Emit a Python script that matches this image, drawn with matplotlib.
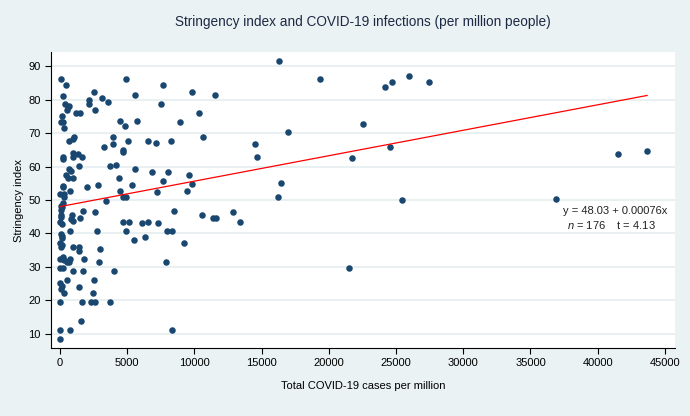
import matplotlib.pyplot as plt
import numpy as np

# total cases per million (x) and stringency index (y)
cases = [74, 469, 201, 335, 618, 670, 498, 1168, 1466, 126, 74, 201, 320, 1019, 990,
         692, 990, 1317, 990, 1659, 223, 246, 1436, 670, 818, 446, 558, 967, 246, 201,
         766, 0, 275, 320, 1986, 2805, 2552, 2180, 2180, 2604, 3147, 3594, 3274, 3921,
         3921, 3742, 4144, 4464, 4858, 4910, 5602, 5729, 5059, 4665, 4687, 4367, 5602,
         5379, 4464, 4710, 4910, 7492, 7686, 6547, 7120, 8281, 8906, 6822, 8035, 7686,
         7239, 9798, 10319, 10617, 9598, 9843, 9426, 11532, 16294, 19344, 14486, 14657,
         16963, 16442, 16219, 21747, 22521, 24158, 24678, 24530, 25966, 27431, 41493,
         43673, 36925, 25467, 21479,
         186, 52, 171, 3422, 893, 796, 930, 1689, 2626, 1488, 74, 52, 97, 22, 112, 744,
         2716, 4687, 5156, 4933, 6078, 6510, 7291, 7961, 8311, 8444, 10565, 11346, 11606,
         12894, 13392, 5483, 6324, 9226, 52, 171, 149, 0, 149, 52, 990, 1414, 1399, 2939,
         0, 201, 275, 498, 707, 670, 1748, 2864, 7886, 0, 223, 967, 1726, 3980, 543, 2515,
         0, 171, 74, 283, 1436, 2470, 0, 1659, 2329, 2582, 3720, 1577, 15, 759, 8296, 0]
stringency = [86.0, 84.2, 81.0, 78.7, 77.7, 78.1, 76.8, 76.0, 76.0, 75.0, 73.3, 73.3, 71.4,
              68.9, 68.2, 67.7, 63.9, 63.8, 62.9, 62.9, 62.9, 62.1, 60.1, 59.3, 58.7, 57.5,
              56.7, 56.5, 54.3, 53.8, 52.8, 51.8, 51.9, 51.0, 53.8, 54.6, 82.3, 79.9, 78.7,
              76.8, 80.4, 79.2, 65.7, 68.9, 66.6, 60.1, 60.5, 73.6, 72.2, 86.0, 81.4, 73.6,
              67.6, 64.8, 64.3, 56.5, 59.3, 54.6, 52.8, 51.0, 51.0, 78.7, 84.2, 67.6, 67.1,
              67.6, 73.2, 58.3, 58.3, 55.6, 52.3, 82.3, 76.0, 68.9, 57.5, 54.7, 52.8, 81.4,
              91.6, 86.0, 66.6, 62.9, 70.3, 55.1, 51.0, 62.5, 72.7, 83.7, 85.1, 65.7, 86.9,
              85.1, 63.8, 64.7, 50.4, 50.0, 29.7,
              49.0, 48.2, 47.8, 49.6, 45.4, 44.4, 43.6, 46.7, 46.3, 44.5, 47.0, 45.6, 45.0,
              43.3, 42.7, 40.7, 40.7, 43.5, 43.5, 40.7, 43.0, 43.5, 43.0, 40.7, 40.7, 46.7,
              45.4, 44.5, 44.5, 46.3, 43.5, 38.0, 39.0, 37.1, 39.9, 39.3, 38.6, 37.3, 36.6,
              36.1, 36.1, 36.1, 34.8, 35.4, 32.5, 33.0, 32.1, 31.5, 32.5, 31.5, 32.5, 31.5,
              31.5, 29.6, 29.6, 28.8, 28.8, 28.8, 26.1, 26.0, 25.1, 24.2, 23.3, 22.3, 24.1,
              22.3, 19.5, 19.5, 19.5, 19.5, 19.5, 14.0, 11.2, 11.2, 11.2, 8.4]

# fitted line as reported on the chart
intercept = 48.03
slope = 0.00076
n_obs = 176
t_stat = 4.13

bg = "#EAF2F3"
navy = "#1A476F"

plt.rcParams["font.family"] = ["Liberation Sans", "DejaVu Sans"]
plt.rcParams["mathtext.fontset"] = "custom"
plt.rcParams["mathtext.it"] = "Liberation Sans:italic"

fig = plt.figure(figsize=(6.9, 4.16), dpi=100, facecolor=bg)
ax = fig.add_axes([51 / 690, 1 - 348 / 416, 624 / 690, 296 / 416])
ax.set_facecolor("white")

ax.scatter(cases, stringency, s=22, color=navy, linewidths=0, zorder=3)

xs = np.array([min(cases), max(cases)])
ax.plot(xs, intercept + slope * xs, color="red", lw=0.9, zorder=4)

ax.text(37400, 46.7, "y = %.2f + %.5fx" % (intercept, slope), fontsize=8,
        va="center", ha="left", color="#222222")
ax.text(37720, 42.5, r"$\mathit{n}$ = %d    t = %.2f" % (n_obs, t_stat), fontsize=8,
        va="center", ha="left", color="#222222")

ax.set_xlim(-670, 45750)
ax.set_ylim(5.8, 94.2)
ax.set_xticks(np.arange(0, 45001, 5000))
ax.set_yticks(np.arange(10, 91, 10))
ax.yaxis.grid(True, color="#E2ECEE", lw=1.1)
ax.set_axisbelow(True)

for s in ["top", "right"]:
    ax.spines[s].set_visible(False)
for s in ["left", "bottom"]:
    ax.spines[s].set_color("black")
    ax.spines[s].set_linewidth(0.8)
ax.tick_params(labelsize=8, length=4, width=0.8, color="black", labelcolor="black")

ax.set_xlabel("Total COVID-19 cases per million", fontsize=8, labelpad=9)
ax.set_ylabel("Stringency index", fontsize=8, labelpad=3)
fig.suptitle("Stringency index and COVID-19 infections (per million people)",
             fontsize=9.8, y=1 - 22 / 416, va="center", x=363 / 690, color="#1e2a45")

fig.savefig("out.png", dpi=100, facecolor=bg)
